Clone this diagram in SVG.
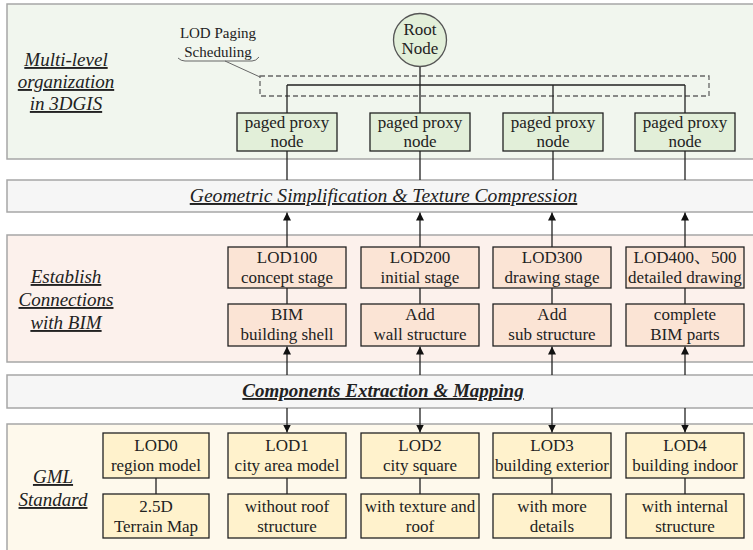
<svg xmlns="http://www.w3.org/2000/svg" width="753" height="550" viewBox="0 0 753 550">
<defs>
<marker id="arr" viewBox="0 0 10 10" refX="10" refY="5" markerWidth="8" markerHeight="8" markerUnits="userSpaceOnUse" orient="auto">
<path d="M0,0 L10,5 L0,10 z" fill="#111"/>
</marker>
<style>
.band{stroke:#a6a6a6;stroke-width:1.5}
.box{stroke:#222;stroke-width:1.3}
.g{fill:#e2efd9}
.o{fill:#fbe4d5}
.y{fill:#fff2cc}
.t{font-family:"Liberation Serif","Noto Serif CJK SC","Noto Sans CJK SC",serif;font-size:17px;fill:#222;text-anchor:middle}
.s{font-family:"Liberation Serif",serif;font-size:15px;fill:#222;text-anchor:middle}
.lbl{font-family:"Liberation Serif",serif;font-size:19px;font-style:italic;text-decoration:underline;fill:#222;text-anchor:middle}
.ln{stroke:#222;stroke-width:1.3;fill:none}
</style>
</defs>
<rect width="753" height="550" fill="#fff"/>
<g id="bands">
<rect class="band" x="7" y="4" width="760" height="155" fill="#f1f6ee"/>
<rect class="band" x="7" y="180" width="760" height="32" fill="#f6f6f6"/>
<rect class="band" x="7" y="235" width="760" height="127" fill="#fcf1ec"/>
<rect class="band" x="7" y="375" width="760" height="33" fill="#f6f6f6"/>
<rect class="band" x="7" y="424" width="760" height="140" fill="#fef9ec"/>
</g>
<g id="labels">
<text class="lbl" x="66" y="66">Multi-level</text>
<text class="lbl" x="66" y="88">organization</text>
<text class="lbl" x="66" y="110">in 3DGIS</text>
<text class="lbl" x="66" y="283">Establish</text>
<text class="lbl" x="66" y="306">Connections</text>
<text class="lbl" x="66" y="329">with BIM</text>
<text class="lbl" x="53" y="483">GML</text>
<text class="lbl" x="53" y="506">Standard</text>
<text class="lbl" x="383.5" y="202" style="font-size:19.6px">Geometric Simplification &amp; Texture Compression</text>
<text class="lbl" x="383" y="397" style="font-weight:bold">Components Extraction &amp; Mapping</text>
</g>
<g id="paging">
<rect x="260" y="76" width="449" height="20" fill="none" stroke="#666" stroke-width="1.3" stroke-dasharray="5,3"/>
<path d="M178,58 Q181,61 185,61 L252,61 Q256,61 259,57" fill="none" stroke="#666" stroke-width="1"/>
<line x1="225" y1="61" x2="260" y2="77" stroke="#666" stroke-width="1"/>
<text class="s" x="218" y="38">LOD Paging</text>
<text class="s" x="218" y="57">Scheduling</text>
</g>
<g id="connectors">
<path class="ln" d="M420,66 V113 M287,85 H685 M287,85 V113 M553,85 V113 M685,85 V113"/>
<path class="ln" d="M287,151 V180 M420,151 V180 M553,151 V180 M685,151 V180"/>
<path class="ln" d="M287,247 V212.5" marker-end="url(#arr)"/>
<path class="ln" d="M420,247 V212.5" marker-end="url(#arr)"/>
<path class="ln" d="M552,247 V212.5" marker-end="url(#arr)"/>
<path class="ln" d="M685,247 V212.5" marker-end="url(#arr)"/>
<path class="ln" d="M287,288 V304 M420,288 V304 M552,288 V304 M685,288 V304"/>
<path class="ln" d="M287,375 V346.5" marker-end="url(#arr)"/>
<path class="ln" d="M420,375 V346.5" marker-end="url(#arr)"/>
<path class="ln" d="M552,375 V346.5" marker-end="url(#arr)"/>
<path class="ln" d="M685,375 V346.5" marker-end="url(#arr)"/>
<path class="ln" d="M287,408 V432.5" marker-end="url(#arr)"/>
<path class="ln" d="M420,408 V432.5" marker-end="url(#arr)"/>
<path class="ln" d="M552,408 V432.5" marker-end="url(#arr)"/>
<path class="ln" d="M685,408 V432.5" marker-end="url(#arr)"/>
<path class="ln" d="M156,478 V494 M287,478 V494 M420,478 V494 M552,478 V494 M685,478 V494"/>
</g>
<g id="root">
<circle cx="420" cy="40" r="26.5" fill="#e2efd9" stroke="#555" stroke-width="1.3"/>
<text class="t" x="420" y="35">Root</text>
<text class="t" x="420" y="54">Node</text>
</g>
<g id="proxy1"><rect class="box g" x="237" y="113" width="100" height="38"/><text class="t" x="287" y="128">paged proxy</text><text class="t" x="287" y="147">node</text></g>
<g id="proxy2"><rect class="box g" x="370" y="113" width="100" height="38"/><text class="t" x="420" y="128">paged proxy</text><text class="t" x="420" y="147">node</text></g>
<g id="proxy3"><rect class="box g" x="503" y="113" width="100" height="38"/><text class="t" x="553" y="128">paged proxy</text><text class="t" x="553" y="147">node</text></g>
<g id="proxy4"><rect class="box g" x="635" y="113" width="100" height="38"/><text class="t" x="685" y="128">paged proxy</text><text class="t" x="685" y="147">node</text></g>
<g id="lod100"><rect class="box o" x="228" y="247" width="118" height="41"/><text class="t" x="287" y="263">LOD100</text><text class="t" x="287" y="283">concept stage</text></g>
<g id="lod200"><rect class="box o" x="361" y="247" width="118" height="41"/><text class="t" x="420" y="263">LOD200</text><text class="t" x="420" y="283">initial stage</text></g>
<g id="lod300"><rect class="box o" x="493" y="247" width="118" height="41"/><text class="t" x="552" y="263">LOD300</text><text class="t" x="552" y="283">drawing stage</text></g>
<g id="lod400"><rect class="box o" x="626" y="247" width="118" height="41"/><text class="t" x="685" y="263">LOD400、500</text><text class="t" x="685" y="283">detailed drawing</text></g>
<g id="bim1"><rect class="box o" x="228" y="304" width="118" height="42"/><text class="t" x="287" y="320">BIM</text><text class="t" x="287" y="340">building shell</text></g>
<g id="bim2"><rect class="box o" x="361" y="304" width="118" height="42"/><text class="t" x="420" y="320">Add</text><text class="t" x="420" y="340">wall structure</text></g>
<g id="bim3"><rect class="box o" x="493" y="304" width="118" height="42"/><text class="t" x="552" y="320">Add</text><text class="t" x="552" y="340">sub structure</text></g>
<g id="bim4"><rect class="box o" x="626" y="304" width="118" height="42"/><text class="t" x="685" y="320">complete</text><text class="t" x="685" y="340">BIM parts</text></g>
<g id="lod0"><rect class="box y" x="103" y="433" width="106" height="45"/><text class="t" x="156" y="451">LOD0</text><text class="t" x="156" y="471">region model</text></g>
<g id="lod1"><rect class="box y" x="228" y="433" width="118" height="45"/><text class="t" x="287" y="451">LOD1</text><text class="t" x="287" y="471">city area model</text></g>
<g id="lod2"><rect class="box y" x="361" y="433" width="118" height="45"/><text class="t" x="420" y="451">LOD2</text><text class="t" x="420" y="471">city square</text></g>
<g id="lod3"><rect class="box y" x="493" y="433" width="118" height="45"/><text class="t" x="552" y="451">LOD3</text><text class="t" x="552" y="471">building exterior</text></g>
<g id="lod4"><rect class="box y" x="626" y="433" width="118" height="45"/><text class="t" x="685" y="451">LOD4</text><text class="t" x="685" y="471">building indoor</text></g>
<g id="gml0"><rect class="box y" x="103" y="494" width="106" height="44"/><text class="t" x="156" y="512">2.5D</text><text class="t" x="156" y="532">Terrain Map</text></g>
<g id="gml1"><rect class="box y" x="228" y="494" width="118" height="44"/><text class="t" x="287" y="512">without roof</text><text class="t" x="287" y="532">structure</text></g>
<g id="gml2"><rect class="box y" x="361" y="494" width="118" height="44"/><text class="t" x="420" y="512">with texture and</text><text class="t" x="420" y="532">roof</text></g>
<g id="gml3"><rect class="box y" x="493" y="494" width="118" height="44"/><text class="t" x="552" y="512">with more</text><text class="t" x="552" y="532">details</text></g>
<g id="gml4"><rect class="box y" x="626" y="494" width="118" height="44"/><text class="t" x="685" y="512">with internal</text><text class="t" x="685" y="532">structure</text></g>
</svg>
